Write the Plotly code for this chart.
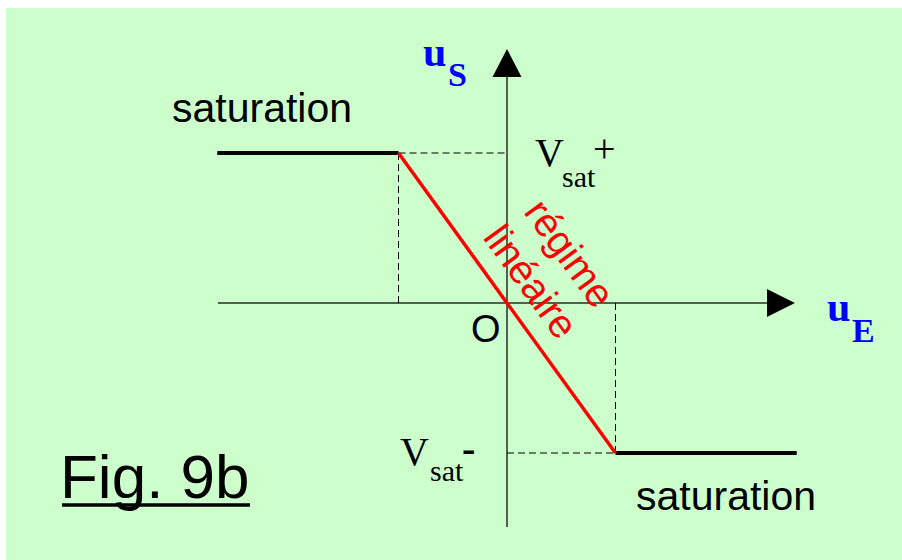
import plotly.graph_objects as go

# ---- data (normalised units: breakpoint input = 1, saturation voltage = 1) ----
vsat_plus = 1.0
vsat_minus = -1.0
ue_break = [-1.0, 1.0]                 # input values where saturation begins
ue_sat_low = [-2.67, -1.0]             # left saturation segment (uE)
us_sat_low = [1.0, 1.0]                # output Vsat+
ue_sat_high = [1.0, 2.67]              # right saturation segment (uE)
us_sat_high = [-1.0, -1.0]             # output Vsat-
ue_lin = [-1.0, 0.0, 1.0]              # linear region
us_lin = [1.0, 0.0, -1.0]

x_axis_ext = [-2.664, 2.396, 2.654]    # start, arrow base, arrow tip
y_axis_ext = [-1.493, 1.507, 1.693]

# pixel <-> data helpers (only used to place text labels)
X0, SX, Y0, SY = 507.0, 108.5, 303.0, 150.0
def X(px):
    return (px - X0) / SX
def Y(py):
    return (Y0 - py) / SY

W, H = 902, 560
ML, MT = 6, 8

fig = go.Figure()

AXC = "#2a2a2a"
# axes lines
fig.add_trace(go.Scatter(x=[x_axis_ext[0], x_axis_ext[1]], y=[0, 0], mode="lines",
                         line=dict(color=AXC, width=1.5), hoverinfo="skip"))
fig.add_trace(go.Scatter(x=[0, 0], y=[y_axis_ext[0], y_axis_ext[1]], mode="lines",
                         line=dict(color=AXC, width=1.5), hoverinfo="skip"))
# arrow heads
hh = 14.0 / SY
hw = 14.5 / SX
fig.add_trace(go.Scatter(x=[x_axis_ext[1], x_axis_ext[2], x_axis_ext[1], x_axis_ext[1]],
                         y=[hh, 0, -hh, hh], mode="lines", fill="toself",
                         fillcolor="black", line=dict(color="black", width=0), hoverinfo="skip"))
fig.add_trace(go.Scatter(x=[-hw, 0, hw, -hw],
                         y=[y_axis_ext[1], y_axis_ext[2], y_axis_ext[1], y_axis_ext[1]],
                         mode="lines", fill="toself",
                         fillcolor="black", line=dict(color="black", width=0), hoverinfo="skip"))

# dashed guides
dash = dict(color="black", width=1, dash="7px,4px")
fig.add_trace(go.Scatter(x=[ue_break[0], 0], y=[vsat_plus, vsat_plus], mode="lines", line=dash, hoverinfo="skip"))
fig.add_trace(go.Scatter(x=[ue_break[0], ue_break[0]], y=[vsat_plus, 0], mode="lines", line=dash, hoverinfo="skip"))
fig.add_trace(go.Scatter(x=[0, ue_break[1]], y=[vsat_minus, vsat_minus], mode="lines", line=dash, hoverinfo="skip"))
fig.add_trace(go.Scatter(x=[ue_break[1], ue_break[1]], y=[vsat_minus, 0], mode="lines", line=dash, hoverinfo="skip"))

# saturation segments
fig.add_trace(go.Scatter(x=ue_sat_low, y=us_sat_low, mode="lines",
                         line=dict(color="black", width=4), hoverinfo="skip"))
fig.add_trace(go.Scatter(x=ue_sat_high, y=us_sat_high, mode="lines",
                         line=dict(color="black", width=4), hoverinfo="skip"))
# linear region
fig.add_trace(go.Scatter(x=ue_lin, y=us_lin, mode="lines",
                         line=dict(color="#ff0000", width=3.5), hoverinfo="skip"))

SANS = "Liberation Sans, Arial, sans-serif"
SERIF = "Liberation Serif, Times New Roman, serif"

def ann(text, px, py, size, family=SANS, color="black", angle=0):
    fig.add_annotation(text=text, x=X(px), y=Y(py), xref="x", yref="y",
                       showarrow=False, xanchor="center", yanchor="middle",
                       textangle=angle, font=dict(family=family, size=size, color=color))

ann("saturation", 261.5, 108, 41)
ann("saturation", 725.5, 496, 41)
ann("O", 485.5, 329, 38)
ann("Fig. 9b", 155, 476.5, 62)
ann("régime", 570, 253, 40, color="#ff0000", angle=54)
ann("linéaire", 531, 281, 40, color="#ff0000", angle=54)

ann("V", 549, 152, 40, family=SERIF)
ann("sat", 578.5, 176.6, 30, family=SERIF)
ann("+", 604.5, 148, 40, family=SERIF)

ann("V", 414.5, 451, 40, family=SERIF)
ann("sat", 447, 470, 30, family=SERIF)
ann("<b>-</b>", 468, 448.7, 40, family=SERIF)

ann("<b>u</b>", 434, 52.4, 42, family=SERIF, color="#0000ff")
ann("<b>S</b>", 457, 74.5, 34, family=SERIF, color="#0000ff")
ann("<b>u</b>", 838.5, 307, 42, family=SERIF, color="#0000ff")
ann("<b>E</b>", 863.5, 330, 34, family=SERIF, color="#0000ff")

# underline of the figure label
fig.add_shape(type="line", xref="x", yref="y", x0=X(62), x1=X(250), y0=Y(505), y1=Y(505),
              line=dict(color="black", width=3.5))

fig.update_layout(
    width=W, height=H,
    margin=dict(l=ML, r=0, t=MT, b=0, pad=0),
    paper_bgcolor="white",
    plot_bgcolor="#ccffcc",
    showlegend=False,
    hovermode=False,
    xaxis=dict(range=[X(ML), X(W)], visible=False, fixedrange=True),
    yaxis=dict(range=[Y(H), Y(MT)], visible=False, fixedrange=True),
)

fig.write_html("out.html", config={"displayModeBar": False},
               post_script="document.body.style.margin='0';document.body.style.overflow='hidden';")
